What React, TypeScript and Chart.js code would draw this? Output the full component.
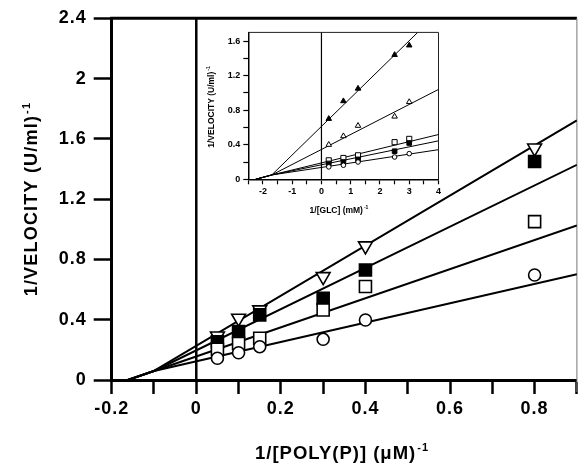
import React, { useEffect, useRef } from 'react';
import { Chart, registerables } from 'chart.js';
Chart.register(...registerables);

// ---------- main chart data: 1/[POLY(P)] (uM^-1) vs 1/VELOCITY ----------
const mainX = [0.05, 0.1, 0.15, 0.3, 0.4, 0.8];
const mainTriDown = [0.292, 0.41, 0.465, 0.686, 0.89, 1.539];
const mainFilledSq = [0.254, 0.321, 0.432, 0.542, 0.73, 1.45];
const mainOpenSq = [0.204, 0.243, 0.277, 0.465, 0.62, 1.051];
const mainCircle = [0.144, 0.181, 0.221, 0.27, 0.398, 0.697];
// fitted lines: x-intercept start, common convergence, end at right edge
const mainLineStart = { x: -0.162, y: 0 };
const mainLineMeet = { x: -0.1, y: 0.06 };
const mainLineEndX = 0.9;
const mainLineEnds = [1.722, 1.428, 1.025, 0.702];

const mainXTicks = [-0.2, -0.1, 0, 0.1, 0.2, 0.3, 0.4, 0.5, 0.6, 0.7, 0.8, 0.9];
const mainXLabels = ['-0.2', '', '0', '', '0.2', '', '0.4', '', '0.6', '', '0.8', ''];
const mainYTicks = [0, 0.4, 0.8, 1.2, 1.6, 2, 2.4];
const mainYLabels = ['0', '0.4', '0.8', '1.2', '1.6', '2', '2.4'];

// ---------- inset data: 1/[GLC] (mM^-1) vs 1/VELOCITY ----------
const insetX = [0.25, 0.75, 1.25, 2.5, 3];
const insetFilledTri = [0.7, 0.905, 1.05, 1.44, 1.55];
const insetOpenTri = [0.4, 0.5, 0.62, 0.727, 0.895];
const insetOpenSq = [0.22, 0.247, 0.278, 0.43, 0.468];
const insetFilledSq = [0.183, 0.2, 0.23, 0.325, 0.42];
const insetCircle = [0.144, 0.163, 0.2, 0.258, 0.297];
const insetLineStart = { x: -2.25, y: 0 };
const insetLineMeet = { x: -1.7, y: 0.05 };
const insetLineEnds = [
  { x: 3.29, y: 1.7 },
  { x: 4, y: 1.04 },
  { x: 4, y: 0.518 },
  { x: 4, y: 0.445 },
  { x: 4, y: 0.343 },
];

const insetXTicks = [-2.5, -2, -1.5, -1, -0.5, 0, 0.5, 1, 1.5, 2, 2.5, 3, 3.5, 4];
const insetXLabels = ['', '-2', '', '-1', '', '0', '', '1', '', '2', '', '3', '', '4'];
const insetYTicks = [0, 0.2, 0.4, 0.6, 0.8, 1.0, 1.2, 1.4, 1.6];
const insetYLabels = ['0', '', '0.4', '', '0.8', '', '1.2', '', '1.6'];

const FONT = "'Liberation Sans', Arial, Helvetica, sans-serif";

function drawSupText(ctx: CanvasRenderingContext2D, main: string, sup: string, cx: number, cy: number, size: number, rotate: boolean, spacing: number) {
  ctx.save();
  ctx.translate(cx, cy);
  if (rotate) ctx.rotate(-Math.PI / 2);
  (ctx as any).letterSpacing = spacing + 'px';
  ctx.fillStyle = '#000';
  ctx.textAlign = 'left';
  ctx.textBaseline = 'alphabetic';
  const bigFont = `bold ${size}px ${FONT}`;
  const smallFont = `bold ${Math.round(size * 0.6)}px ${FONT}`;
  ctx.font = bigFont;
  const w1 = ctx.measureText(main).width;
  ctx.font = smallFont;
  const w2 = ctx.measureText(sup).width;
  const total = w1 + w2 + 1;
  const base = size * 0.36;
  ctx.font = bigFont;
  ctx.fillText(main, -total / 2, base);
  ctx.font = smallFont;
  ctx.fillText(sup, -total / 2 + w1 + 1, base - size * 0.42);
  ctx.restore();
}

function pts(xs: number[], ys: number[]) {
  return xs.map((x, i) => ({ x, y: ys[i] }));
}

const mainPlugin = {
  id: 'mainDecor',
  beforeDraw(chart: any) {
    (chart.ctx as any).letterSpacing = '1px';
  },
  beforeDatasetsDraw(chart: any) {
    const { ctx, chartArea, scales } = chart;
    const x0 = scales.x.getPixelForValue(0);
    ctx.save();
    (ctx as any).letterSpacing = '0px';
    ctx.strokeStyle = '#000';
    ctx.lineWidth = 2.5;
    ctx.beginPath();
    ctx.moveTo(x0, chartArea.top);
    ctx.lineTo(x0, chartArea.bottom);
    ctx.stroke();
    // top frame
    ctx.lineWidth = 3;
    ctx.beginPath();
    ctx.moveTo(chartArea.left - 1.5, chartArea.top);
    ctx.lineTo(chartArea.right, chartArea.top);
    ctx.stroke();
    // right frame
    ctx.strokeStyle = '#777';
    ctx.lineWidth = 1;
    ctx.beginPath();
    ctx.moveTo(chartArea.right, chartArea.top);
    ctx.lineTo(chartArea.right, chartArea.bottom + 12);
    ctx.stroke();
    ctx.restore();
  },
  afterDraw(chart: any) {
    const ctx = chart.ctx;
    drawSupText(ctx, '1/[POLY(P)] (\u03bcM)', '-1', 342, 452, 18.5, false, 1);
    drawSupText(ctx, '1/VELOCITY (U/ml)', '-1', 31, 199, 18, true, 1.2);
  },
};

const insetPlugin = {
  id: 'insetDecor',
  beforeDraw(chart: any) {
    const { ctx, chartArea } = chart;
    ctx.save();
    ctx.fillStyle = '#fff';
    ctx.fillRect(chartArea.left, chartArea.top, chartArea.right - chartArea.left, chartArea.bottom - chartArea.top);
    ctx.restore();
  },
  beforeDatasetsDraw(chart: any) {
    const { ctx, chartArea, scales } = chart;
    const x0 = scales.x.getPixelForValue(0);
    ctx.save();
    ctx.strokeStyle = '#000';
    ctx.lineWidth = 1.2;
    ctx.beginPath();
    ctx.moveTo(x0, chartArea.top);
    ctx.lineTo(x0, chartArea.bottom);
    ctx.stroke();
    ctx.lineWidth = 1;
    ctx.strokeStyle = '#222';
    ctx.beginPath();
    ctx.moveTo(chartArea.left, chartArea.top);
    ctx.lineTo(chartArea.right, chartArea.top);
    ctx.lineTo(chartArea.right, chartArea.bottom);
    ctx.stroke();
    ctx.restore();
  },
  afterDraw(chart: any) {
    const ctx = chart.ctx;
    drawSupText(ctx, '1/[GLC] (mM)', '-1', 139, 186, 8.5, false, 0);
    drawSupText(ctx, '1/VELOCITY (U/ml)', '-1', 11, 83, 8.5, true, 0);
  },
};

export default function App() {
  const mainRef = useRef<HTMLCanvasElement>(null);
  const insetRef = useRef<HTMLCanvasElement>(null);

  useEffect(() => {
    const lineDs = (start: any, meet: any, end: any, w: number) => ({
      type: 'line' as const,
      data: [start, meet, end],
      showLine: true,
      borderColor: '#000',
      borderWidth: w,
      pointRadius: 0,
      fill: false,
      tension: 0,
      order: 2,
    });
    const ptDs = (data: any[], style: string, r: number, filled: boolean, rot: number, bw: number) => ({
      type: 'scatter' as const,
      data,
      pointStyle: style,
      pointRadius: r,
      pointRotation: rot,
      pointBorderColor: '#000',
      pointBackgroundColor: filled ? '#000' : '#fff',
      pointBorderWidth: bw,
      showLine: false,
      order: 1,
    });

    const mainDatasets: any[] = [
      ptDs(pts(mainX, mainCircle), 'circle', 6, false, 0, 1.6),
      ptDs(pts(mainX, mainOpenSq), 'rect', 8.5, false, 0, 1.6),
      ptDs(pts(mainX, mainFilledSq), 'rect', 8.5, true, 0, 1.6),
      ptDs(pts(mainX, mainTriDown), 'triangle', 8, false, 180, 1.6),
      ...mainLineEnds.map((y) => lineDs(mainLineStart, mainLineMeet, { x: mainLineEndX, y }, 2)),
    ];

    const mainChart = new Chart(mainRef.current as HTMLCanvasElement, {
      type: 'scatter',
      data: { datasets: mainDatasets },
      plugins: [mainPlugin],
      options: {
        animation: false,
        responsive: false,
        events: [],
        layout: { padding: { top: 18.3, right: 1.5, left: 0, bottom: 0 } },
        plugins: { legend: { display: false }, tooltip: { enabled: false } },
        scales: {
          x: {
            type: 'linear',
            min: -0.2,
            max: 0.9,
            afterFit: (s: any) => { s.height = 86; },
            afterBuildTicks: (s: any) => { s.ticks = mainXTicks.map((v) => ({ value: v })); },
            ticks: {
              autoSkip: false,
              maxRotation: 0,
              padding: 4,
              color: '#000',
              font: { family: FONT, size: 18, weight: 'bold' },
              callback: (_v: any, i: number) => mainXLabels[i],
            },
            grid: { drawOnChartArea: false, tickLength: 14, tickWidth: 2.5, tickColor: '#000' },
            border: { width: 3, color: '#000' },
          },
          y: {
            type: 'linear',
            min: 0,
            max: 2.4,
            afterFit: (s: any) => { s.width = 111.7; },
            afterBuildTicks: (s: any) => { s.ticks = mainYTicks.map((v) => ({ value: v })); },
            ticks: {
              autoSkip: false,
              padding: 7,
              color: '#000',
              font: { family: FONT, size: 18, weight: 'bold' },
              callback: (_v: any, i: number) => mainYLabels[i],
            },
            grid: { drawOnChartArea: false, tickLength: 18, tickWidth: 2.5, tickColor: '#000' },
            border: { width: 3, color: '#000' },
          },
        },
      } as any,
    });

    const insetDatasets: any[] = [
      ptDs(pts(insetX, insetCircle), 'circle', 2.3, false, 0, 1),
      ptDs(pts(insetX, insetFilledSq), 'rect', 3.3, true, 0, 1),
      ptDs(pts(insetX, insetOpenSq), 'rect', 3.6, false, 0, 1),
      ptDs(pts(insetX, insetOpenTri), 'triangle', 3.2, false, 0, 1),
      ptDs(pts(insetX, insetFilledTri), 'triangle', 3.2, true, 0, 1),
      ...insetLineEnds.map((e) => lineDs(insetLineStart, insetLineMeet, e, 1)),
    ];

    const insetChart = new Chart(insetRef.current as HTMLCanvasElement, {
      type: 'scatter',
      data: { datasets: insetDatasets },
      plugins: [insetPlugin],
      options: {
        animation: false,
        responsive: false,
        events: [],
        layout: { padding: { top: 7, right: 7.5, left: 0, bottom: 0 } },
        plugins: { legend: { display: false }, tooltip: { enabled: false } },
        scales: {
          x: {
            type: 'linear',
            min: -2.5,
            max: 4,
            afterFit: (s: any) => { s.height = 40.7; },
            afterBuildTicks: (s: any) => { s.ticks = insetXTicks.map((v) => ({ value: v })); },
            ticks: {
              autoSkip: false,
              maxRotation: 0,
              padding: 2,
              color: '#000',
              font: { family: FONT, size: 9, weight: 'bold' },
              callback: (_v: any, i: number) => insetXLabels[i],
            },
            grid: { drawOnChartArea: false, tickLength: 5, tickWidth: 1.2, tickColor: '#000' },
            border: { width: 1.5, color: '#000' },
          },
          y: {
            type: 'linear',
            min: 0,
            max: 1.7,
            afterFit: (s: any) => { s.width = 48.3; },
            afterBuildTicks: (s: any) => { s.ticks = insetYTicks.map((v) => ({ value: v })); },
            ticks: {
              autoSkip: false,
              padding: 3,
              color: '#000',
              font: { family: FONT, size: 9, weight: 'bold' },
              callback: (_v: any, i: number) => insetYLabels[i],
            },
            grid: { drawOnChartArea: false, tickLength: 5, tickWidth: 1.2, tickColor: '#000' },
            border: { width: 1.5, color: '#000' },
          },
        },
      } as any,
    });

    return () => {
      mainChart.destroy();
      insetChart.destroy();
    };
  }, []);

  return (
    <div style={{ position: 'absolute', left: 0, top: 0, width: 587, height: 466, background: '#fff' }}>
      <canvas ref={mainRef} width={587} height={466} style={{ position: 'absolute', left: 0, top: 0, width: 587, height: 466 }} />
      <canvas ref={insetRef} width={246} height={196} style={{ position: 'absolute', left: 200, top: 24, width: 246, height: 196 }} />
    </div>
  );
}
